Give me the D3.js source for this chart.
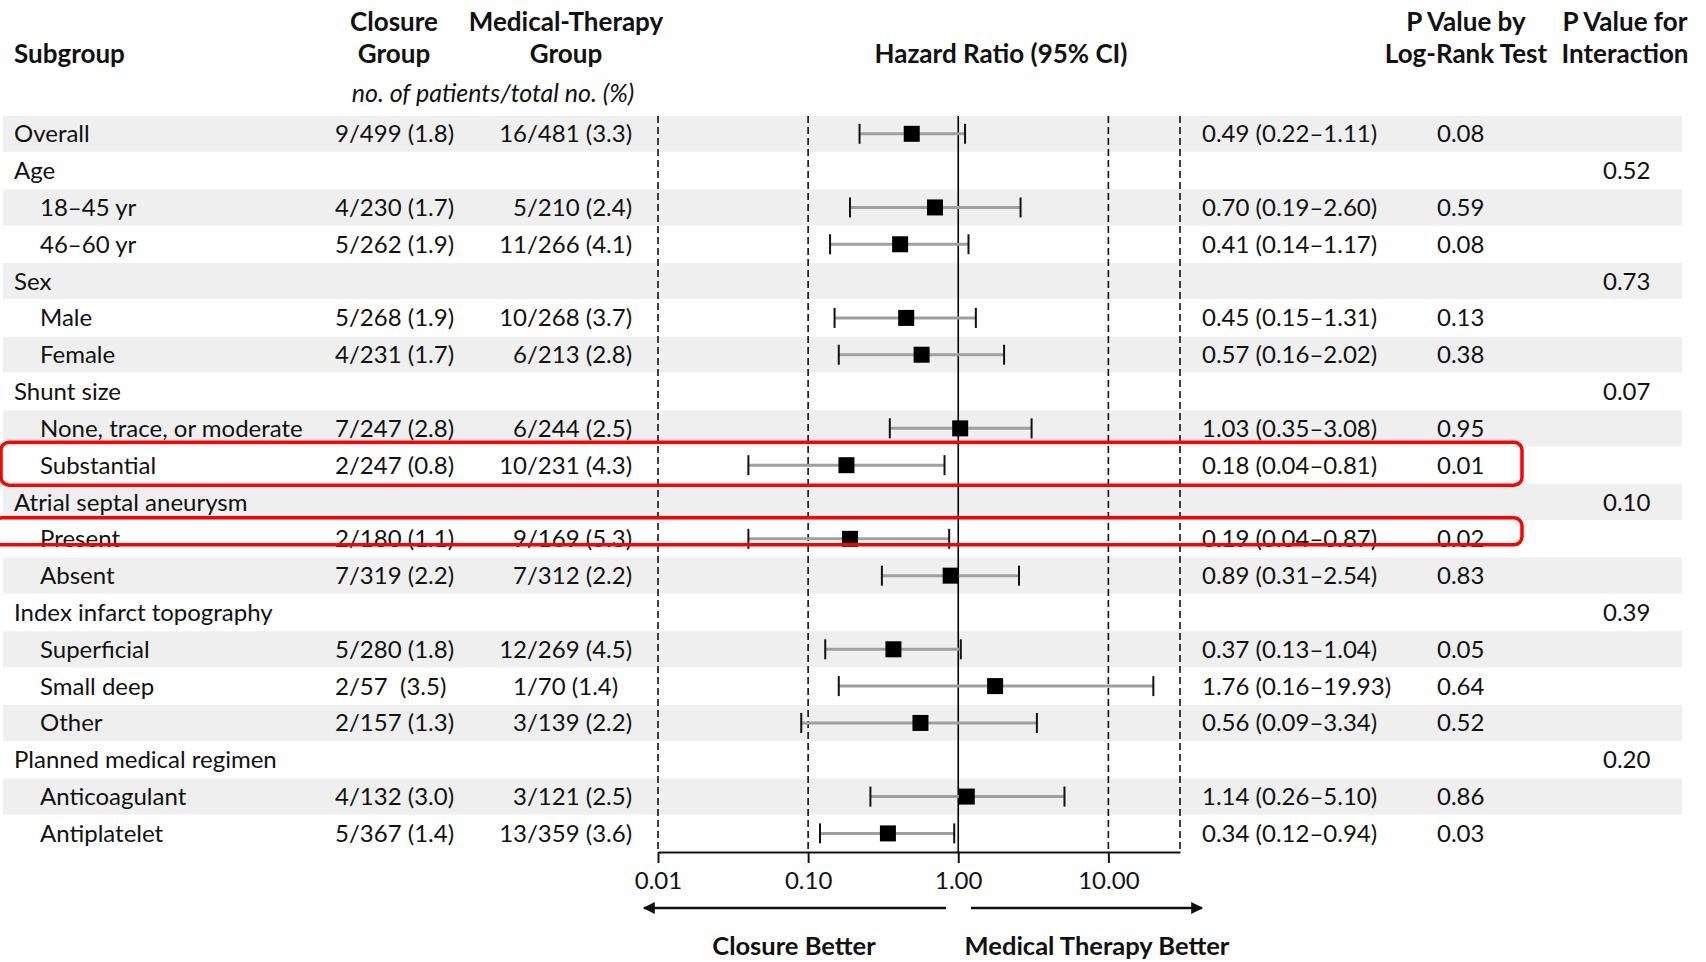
<!DOCTYPE html>
<html>
<head>
<meta charset="utf-8">
<script src="https://cdn.jsdelivr.net/npm/d3@7"></script>
<style>
  html, body { margin: 0; padding: 0; background: #fff; }
  svg { display: block; }
  text { font-family: "Lato", "Noto Sans", sans-serif; fill: #111; }
</style>
</head>
<body>
<svg id="chart" width="1706" height="962"></svg>
<script>
// ---------- DATA ----------
const labels = ["Overall","Age","18\u201345 yr","46\u201360 yr","Sex","Male","Female","Shunt size",
  "None, trace, or moderate","Substantial","Atrial septal aneurysm","Present","Absent",
  "Index infarct topography","Superficial","Small deep","Other","Planned medical regimen",
  "Anticoagulant","Antiplatelet"];
const levels = [0,0,1,1,0,1,1,0,1,1,0,1,1,0,1,1,1,0,1,1];
const closure = ["9/499 (1.8)","","4/230 (1.7)","5/262 (1.9)","","5/268 (1.9)","4/231 (1.7)","",
  "7/247 (2.8)","2/247 (0.8)","","2/180 (1.1)","7/319 (2.2)","","5/280 (1.8)","2/57  (3.5)",
  "2/157 (1.3)","","4/132 (3.0)","5/367 (1.4)"];
const medical = ["16/481 (3.3)","","5/210 (2.4)","11/266 (4.1)","","10/268 (3.7)","6/213 (2.8)","",
  "6/244 (2.5)","10/231 (4.3)","","9/169 (5.3)","7/312 (2.2)","","12/269 (4.5)","1/70 (1.4)",
  "3/139 (2.2)","","3/121 (2.5)","13/359 (3.6)"];
const hr = [0.49,null,0.70,0.41,null,0.45,0.57,null,1.03,0.18,null,0.19,0.89,null,0.37,1.76,0.56,null,1.14,0.34];
const lo = [0.22,null,0.19,0.14,null,0.15,0.16,null,0.35,0.04,null,0.04,0.31,null,0.13,0.16,0.09,null,0.26,0.12];
const hi = [1.11,null,2.60,1.17,null,1.31,2.02,null,3.08,0.81,null,0.87,2.54,null,1.04,19.93,3.34,null,5.10,0.94];
const pLogRank = ["0.08","","0.59","0.08","","0.13","0.38","","0.95","0.01","","0.02","0.83","",
  "0.05","0.64","0.52","","0.86","0.03"];
const pInteraction = ["","0.52","","","0.73","","","0.07","","","0.10","","","0.39","","","","0.20","",""];
const tickValues = [0.01, 0.1, 1, 10];
const tickLabels = ["0.01","0.10","1.00","10.00"];
const highlightedRows = [9, 11];

// ---------- LAYOUT ----------
const svg = d3.select("#chart");
const FS = 24, FSB = 26;
const n = labels.length;
const y = d3.scaleLinear().domain([0, n - 1]).range([133.8, 833.4]);
const x = d3.scaleLog().domain([0.01, 30]).range([658, 1180]);
const plotTop = 116, axisY = 852;
const fmt = d3.format(".2f");

// bands
svg.append("g").selectAll("rect").data(d3.range(n).filter(i => i % 2 === 0)).join("rect")
  .attr("x", 3).attr("width", 1679)
  .attr("y", i => y(i) - 18).attr("height", 36)
  .attr("fill", "#efefef");

// dashed guide lines
const dashed = [0.01, 0.1, 10, 30];
svg.append("g").selectAll("line").data(dashed).join("line")
  .attr("x1", d => x(d)).attr("x2", d => x(d))
  .attr("y1", plotTop).attr("y2", axisY)
  .attr("stroke", "#111").attr("stroke-width", 1.6)
  .attr("stroke-dasharray", "7,4");

// reference line at 1
svg.append("line")
  .attr("x1", x(1)).attr("x2", x(1)).attr("y1", plotTop).attr("y2", axisY)
  .attr("stroke", "#000").attr("stroke-width", 1.6);

// axis
const axis = d3.axisBottom(x).tickValues(tickValues)
  .tickFormat((d, i) => tickLabels[i]).tickSizeInner(11).tickSizeOuter(0).tickPadding(9);
const ag = svg.append("g").attr("transform", `translate(0,${axisY})`).call(axis);
ag.select(".domain").attr("stroke", "#111").attr("stroke-width", 2);
ag.selectAll(".tick line").attr("stroke", "#111").attr("stroke-width", 2);
ag.selectAll(".tick text").attr("font-size", FS).attr("font-family", "Lato").attr("fill", "#111");

// CIs
const rows = d3.range(n).filter(i => hr[i] != null);
const ci = svg.append("g");
ci.selectAll("line.ci").data(rows).join("line").attr("class", "ci")
  .attr("x1", i => x(lo[i])).attr("x2", i => x(hi[i]))
  .attr("y1", i => y(i)).attr("y2", i => y(i))
  .attr("stroke", "#9f9f9f").attr("stroke-width", 3);
ci.selectAll("line.capL").data(rows).join("line").attr("class", "capL")
  .attr("x1", i => x(lo[i])).attr("x2", i => x(lo[i]))
  .attr("y1", i => y(i) - 10).attr("y2", i => y(i) + 10)
  .attr("stroke", "#111").attr("stroke-width", 2);
ci.selectAll("line.capR").data(rows).join("line").attr("class", "capR")
  .attr("x1", i => x(hi[i])).attr("x2", i => x(hi[i]))
  .attr("y1", i => y(i) - 10).attr("y2", i => y(i) + 10)
  .attr("stroke", "#111").attr("stroke-width", 2);
ci.selectAll("rect").data(rows).join("rect")
  .attr("x", i => x(hr[i]) - 8).attr("y", i => y(i) - 8)
  .attr("width", 16).attr("height", 16).attr("fill", "#000");

// row texts
const tg = svg.append("g").attr("font-size", FS);
const base = i => y(i) + 8.5;
tg.selectAll("text.lab").data(d3.range(n)).join("text").attr("class", "lab")
  .attr("x", i => levels[i] ? 40 : 14).attr("y", base).text(i => labels[i]);

function splitCol(arr, slashX, cls) {
  const idx = d3.range(n).filter(i => arr[i]);
  tg.selectAll("text." + cls + "a").data(idx).join("text").attr("class", cls + "a")
    .attr("x", slashX).attr("y", base).attr("text-anchor", "end")
    .text(i => arr[i].split("/")[0]);
  tg.selectAll("text." + cls + "b").data(idx).join("text").attr("class", cls + "b")
    .attr("x", slashX).attr("y", base).attr("text-anchor", "start")
    .style("white-space", "pre")
    .text(i => "/" + arr[i].split("/")[1]);
}
splitCol(closure, 349, "c");
splitCol(medical, 527, "m");

tg.selectAll("text.hr").data(rows).join("text").attr("class", "hr")
  .attr("x", 1202).attr("y", base)
  .text(i => `${fmt(hr[i])} (${fmt(lo[i])}\u2013${fmt(hi[i])})`);
tg.selectAll("text.p1").data(d3.range(n).filter(i => pLogRank[i])).join("text").attr("class", "p1")
  .attr("x", 1437).attr("y", base).text(i => pLogRank[i]);
tg.selectAll("text.p2").data(d3.range(n).filter(i => pInteraction[i])).join("text").attr("class", "p2")
  .attr("x", 1603).attr("y", base).text(i => pInteraction[i]);

// headers
const hg = svg.append("g").attr("font-size", FSB).attr("font-weight", "bold");
const hdr = (t, xx, yy, anchor) => hg.append("text").attr("x", xx).attr("y", yy)
  .attr("text-anchor", anchor || "middle").text(t);
hdr("Subgroup", 14, 63, "start");
hdr("Closure", 394, 31); hdr("Group", 394, 63);
hdr("Medical-Therapy", 566, 31); hdr("Group", 566, 63);
hdr("Hazard Ratio (95% CI)", 1001, 63);
hdr("P Value by", 1466, 31); hdr("Log-Rank Test", 1466, 63);
hdr("P Value for", 1625, 31); hdr("Interaction", 1625, 63);
svg.append("text").attr("x", 493).attr("y", 102).attr("text-anchor", "middle")
  .attr("font-size", 25).attr("font-style", "italic").text("no. of patients/total no. (%)");

// arrows
const arrowY = 908;
const defs = svg.append("defs");
defs.append("marker").attr("id", "ah").attr("viewBox", "0 0 10 10")
  .attr("refX", 9).attr("refY", 5)
  .attr("markerUnits", "userSpaceOnUse").attr("orient", "auto-start-reverse")
  .attr("markerWidth", 22).attr("markerHeight", 12)
  .append("path").attr("d", "M0,0 L10,5 L0,10 Z").attr("fill", "#111");
svg.append("line").attr("x1", 946).attr("x2", 644).attr("y1", arrowY).attr("y2", arrowY)
  .attr("stroke", "#111").attr("stroke-width", 2.5).attr("marker-end", "url(#ah)");
svg.append("line").attr("x1", 971).attr("x2", 1202).attr("y1", arrowY).attr("y2", arrowY)
  .attr("stroke", "#111").attr("stroke-width", 2.5).attr("marker-end", "url(#ah)");
const bg = svg.append("g").attr("font-size", 25.5).attr("font-weight", "bold");
bg.append("text").attr("x", 794).attr("y", 955).attr("text-anchor", "middle").text("Closure Better");
bg.append("text").attr("x", 1097).attr("y", 955).attr("text-anchor", "middle").text("Medical Therapy Better");

// red highlight boxes
const boxes = [{row: highlightedRows[0], x0: 1, top: -23, h: 43}, {row: highlightedRows[1], x0: -6, top: -21, h: 27}];
svg.append("g").selectAll("rect").data(boxes).join("rect")
  .attr("x", d => d.x0).attr("y", d => y(d.row) + d.top)
  .attr("width", d => 1522 - d.x0).attr("height", d => d.h)
  .attr("rx", 8).attr("fill", "none").attr("stroke", "#ff0000").attr("stroke-width", 3.5);
</script>
</body>
</html>
